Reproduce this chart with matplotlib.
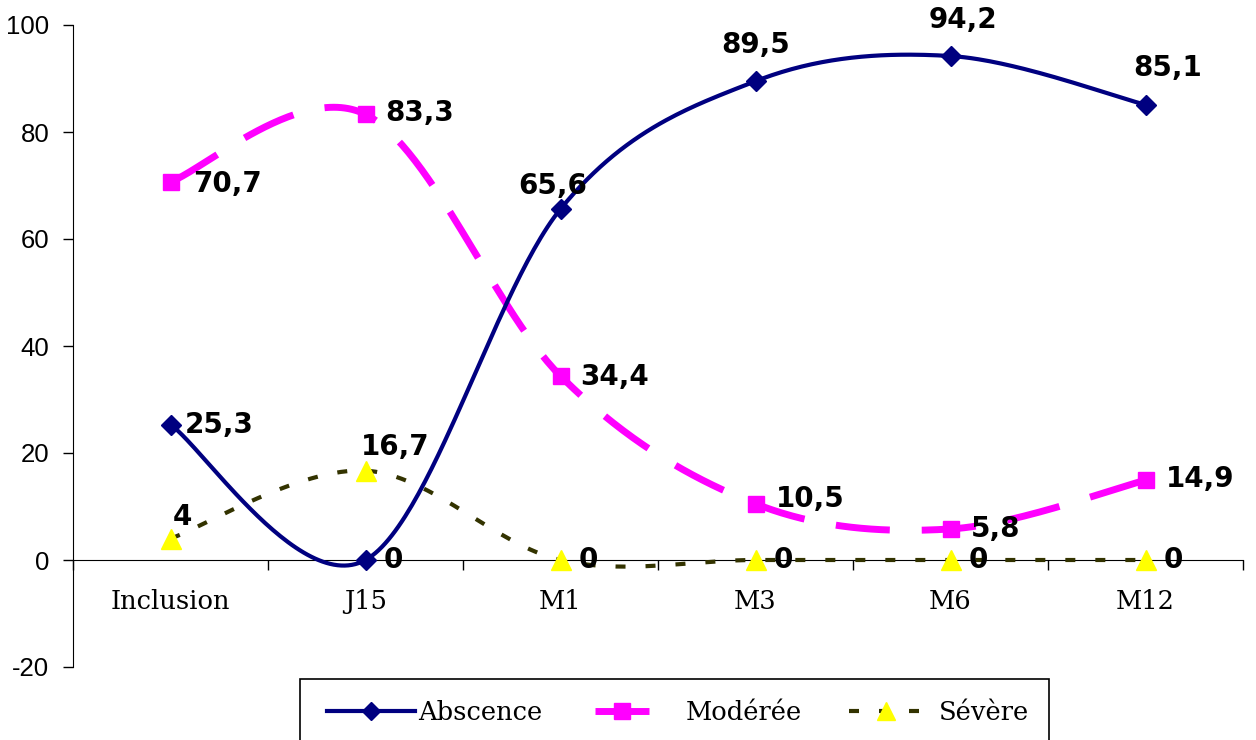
import numpy as np
import matplotlib.pyplot as plt
from matplotlib.lines import Line2D
from matplotlib.patches import Rectangle

plt.rcParams["axes.unicode_minus"] = False

categories = ["Inclusion", "J15", "M1", "M3", "M6", "M12"]
abscence = [25.3, 0, 65.6, 89.5, 94.2, 85.1]
moderee = [70.7, 83.3, 34.4, 10.5, 5.8, 14.9]
severe = [4, 16.7, 0, 0, 0, 0]
series_names = ["Abscence", "Modérée", "Sévère"]

# label offsets in pixels (dx, dy, ha) for each point
abs_off = [(14, 0, "left"), (18, 0, "left"), (-8, 23, "center"), (0, 36, "center"), (12, 36, "center"), (22, 37, "center")]
mod_off = [(23, -2, "left"), (20, 1, "left"), (20, -1, "left"), (20, 5, "left"), (20, 0, "left"), (20, 1, "left")]
sev_off = [(2, 22, "left"), (-5, 24, "left"), (18, 0, "left"), (18, 0, "left"), (18, 0, "left"), (18, 0, "left")]


def smooth(y, n=60):
    # cubic bezier through points, control points from neighbours (excel style smoothing)
    x = np.arange(len(y), dtype=float)
    y = np.asarray(y, dtype=float)
    px = np.concatenate([[x[0]], x, [x[-1]]])
    py = np.concatenate([[y[0]], y, [y[-1]]])
    xs, ys = [], []
    t = np.linspace(0, 1, n)
    for i in range(len(y) - 1):
        p0 = np.array([px[i + 1], py[i + 1]])
        p3 = np.array([px[i + 2], py[i + 2]])
        c1 = p0 + (p3 - np.array([px[i], py[i]])) / 6
        c2 = p3 - (np.array([px[i + 3], py[i + 3]]) - p0) / 6
        b = ((1 - t) ** 3)[:, None] * p0 + (3 * (1 - t) ** 2 * t)[:, None] * c1 \
            + (3 * (1 - t) * t ** 2)[:, None] * c2 + (t ** 3)[:, None] * p3
        xs.append(b[:, 0])
        ys.append(b[:, 1])
    return np.concatenate(xs), np.concatenate(ys)


W, H = 1256, 740
fig = plt.figure(figsize=(W / 100, H / 100), dpi=100)
ax = fig.add_axes([73 / W, 73 / H, 1170 / W, 642 / H])

# spine position first: moving it resets the ticks
ax.spines["top"].set_visible(False)
ax.spines["right"].set_visible(False)
ax.spines["bottom"].set_position(("data", 0))
ax.spines["bottom"].set_zorder(1)

styles = [
    dict(color="#000080", lw=3, ls="-", marker="D", mfc="#000080", mec="#000080", ms=10),
    dict(color="#FF00FF", lw=5, ls=(0, (7.8, 4.6)), marker="s", mfc="#FF00FF", mec="#FF00FF", ms=12),
    dict(color="#333300", lw=3, ls=(0, (2.4, 4.8)), marker="^", mfc="#FFFF00", mec="#FFFF00", ms=14),
]

x = np.arange(len(categories))
for vals, st, offs in zip([moderee, abscence, severe], [styles[1], styles[0], styles[2]], [mod_off, abs_off, sev_off]):
    sx, sy = smooth(vals)
    ax.plot(sx, sy, color=st["color"], lw=st["lw"], ls=st["ls"], dash_capstyle="butt", zorder=2)
    ax.plot(x, vals, ls="none", marker=st["marker"], mfc=st["mfc"], mec=st["mec"], ms=st["ms"], zorder=3)
    for xi, v, (dx, dy, ha) in zip(x, vals, offs):
        lab = ("%g" % v).replace(".", ",")
        ax.annotate(lab, (xi, v), xytext=(dx, dy), textcoords="offset pixels",
                    ha=ha, va="center", fontsize=20, fontweight="bold",
                    family="DejaVu Sans", zorder=4)

ax.set_xlim(-0.5, 5.5)
ax.set_ylim(-20, 100)
ax.tick_params(axis="y", direction="out", length=7, width=1, pad=10)
ax.set_yticks(np.arange(-20, 101, 20), [str(v) for v in range(-20, 101, 20)],
              fontfamily="Liberation Sans", fontsize=18.5)

# category names on major ticks (no mark), separators as minor ticks
ax.tick_params(axis="x", which="major", length=0, pad=21)
ax.tick_params(axis="x", which="minor", direction="out", length=7, width=1)
ax.set_xticks(x, categories, fontfamily="DejaVu Serif", fontsize=18.5)
ax.set_xticks(np.arange(-0.5, 5.6, 1), minor=True)

# legend: frame running off the bottom edge, one entry per box
fig.add_artist(Rectangle((300 / W, -0.02), 749 / W, 0.02 + 61 / H, transform=fig.transFigure,
                         fill=False, ec="black", lw=1.2))
leg_x = [327, 595, 849]
leg_len = [88, 54, 73]
leg_pad = [3, 37, 17]
for i, (st, name) in enumerate(zip(styles, series_names)):
    h = Line2D([], [], color=st["color"], lw=st["lw"], ls=st["ls"], marker=st["marker"],
               mfc=st["mfc"], mec=st["mec"], ms=st["ms"] * 0.95, dash_capstyle="butt")
    fs = 18.5
    px_em = fs * 100 / 72
    fig.legend([h], [name], loc="center left", bbox_to_anchor=(leg_x[i] / W, 1 - 712 / H),
               frameon=False, borderpad=0, borderaxespad=0, numpoints=1,
               handlelength=leg_len[i] / px_em, handletextpad=leg_pad[i] / px_em,
               prop={"family": "DejaVu Serif", "size": fs})

fig.savefig("out.png", dpi=100)
